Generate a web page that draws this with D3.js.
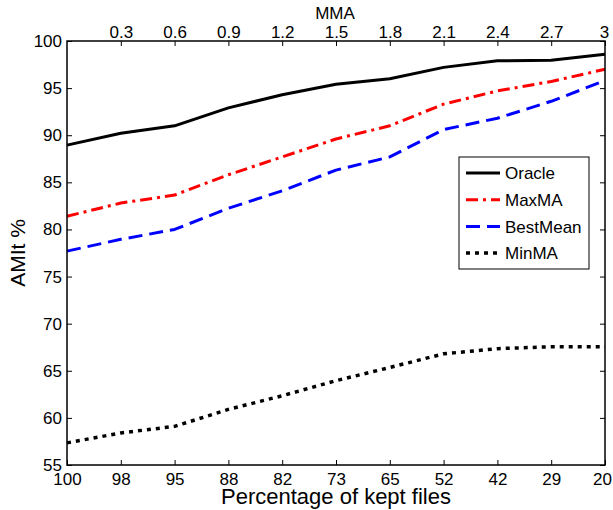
<!DOCTYPE html>
<html><head><meta charset="utf-8">
<script src="https://cdn.jsdelivr.net/npm/d3@7"></script>
<style>body{margin:0;background:#fff}text{font-family:"Liberation Sans",Arial,sans-serif}</style>
</head><body><svg id="c" width="613" height="510"></svg>
<script>
const keptFiles = ["100","98","95","88","82","73","65","52","42","29","20"];
const mmaTicks = ["","0.3","0.6","0.9","1.2","1.5","1.8","2.1","2.4","2.7","3"];
const yTicks = [55,60,65,70,75,80,85,90,95,100];
const oracle   = [88.95,90.2,91.0,92.9,94.3,95.4,96.0,97.2,97.9,97.95,98.6];
const maxMA    = [81.4,82.8,83.65,85.8,87.7,89.6,91.0,93.3,94.7,95.7,97.0];
const bestMean = [77.7,78.95,80.0,82.25,84.1,86.3,87.7,90.6,91.8,93.6,95.8];
const minMA    = [57.35,58.4,59.1,60.9,62.35,63.95,65.35,66.8,67.35,67.55,67.55];
const seriesNames = ["Oracle","MaxMA","BestMean","MinMA"];

const svg = d3.select("#c");
const L=67,R=605,T=41,B=465;
const x = d3.scaleLinear().domain([0,keptFiles.length-1]).range([L,R]);
const y = d3.scaleLinear().domain([55,100]).range([B,T]);
const idx = d3.range(keptFiles.length);
const fs = 17;

const series = [
  {name:seriesNames[0], vals:oracle, color:"#000", dash:null, w:3},
  {name:seriesNames[1], vals:maxMA, color:"#ff0000", dash:"12,5,3,5", w:3},
  {name:seriesNames[2], vals:bestMean, color:"#0000ff", dash:"14,7", w:3},
  {name:seriesNames[3], vals:minMA, color:"#000", dash:"4,5", w:3.5}
];

const line = d3.line().x((d,i)=>x(i)).y(d=>y(d));
series.forEach(s=>{
  svg.append("path").attr("d",line(s.vals)).attr("fill","none")
    .attr("stroke",s.color).attr("stroke-width",s.w)
    .attr("stroke-dasharray",s.dash).attr("stroke-linejoin","round");
});

// axes
const tk=5;
const axBottom = d3.axisBottom(x).tickValues(idx).tickFormat(i=>keptFiles[i]).tickSizeInner(-tk).tickSizeOuter(0).tickPadding(8);
const axTop = d3.axisTop(x).tickValues(idx.slice(1)).tickFormat(i=>mmaTicks[i]).tickSizeInner(-tk).tickSizeOuter(0).tickPadding(3);
const axLeft = d3.axisLeft(y).tickValues(yTicks).tickSizeInner(-tk).tickSizeOuter(0).tickPadding(5);
const axRight = d3.axisRight(y).tickValues(yTicks).tickFormat("").tickSizeInner(-tk).tickSizeOuter(0);

function style(g){
  g.selectAll("path").remove();
  g.selectAll("line").attr("stroke","#000").attr("stroke-width",1);
  g.selectAll("text").attr("fill","#000").style("font-size",fs+"px").style("font-family","'Liberation Sans',Arial,sans-serif");
}
const gb = svg.append("g").attr("transform",`translate(0,${B})`).call(axBottom).call(style);
gb.selectAll(".tick text").filter(i=>i===keptFiles.length-1).attr("dx",-3);
const gt = svg.append("g").attr("transform",`translate(0,${T})`).call(axTop).call(style);
gt.selectAll(".tick text").filter(i=>i===keptFiles.length-1).attr("dx",-1);
svg.append("g").attr("transform",`translate(${L},0)`).call(axLeft).call(style);
svg.append("g").attr("transform",`translate(${R},0)`).call(axRight).call(style);

svg.append("rect").attr("x",L).attr("y",T).attr("width",R-L).attr("height",B-T)
  .attr("fill","none").attr("stroke","#000").attr("stroke-width",1.5);

// labels
svg.append("text").attr("x",(L+R)/2).attr("y",504).attr("text-anchor","middle").style("font-size","22px").text("Percentage of kept files");
svg.append("text").attr("x",335).attr("y",19).attr("text-anchor","middle").style("font-size",fs+"px").text("MMA");
svg.append("text").attr("transform",`translate(25,${(T+B)/2}) rotate(-90)`).attr("text-anchor","middle").style("font-size","21px").text("AMIt %");

// legend
const lg = svg.append("g");
lg.append("rect").attr("x",459).attr("y",157).attr("width",130).attr("height",112)
  .attr("fill","#fff").attr("stroke","#000").attr("stroke-width",1);
series.forEach((s,i)=>{
  const yy = 173 + i*26.7;
  lg.append("line").attr("x1",466).attr("x2",500).attr("y1",yy).attr("y2",yy)
    .attr("stroke",s.color).attr("stroke-width",s.w).attr("stroke-dasharray",s.dash);
  lg.append("text").attr("x",505).attr("y",yy).attr("dy","0.36em").style("font-size",fs+"px").text(s.name);
});
</script></body></html>
